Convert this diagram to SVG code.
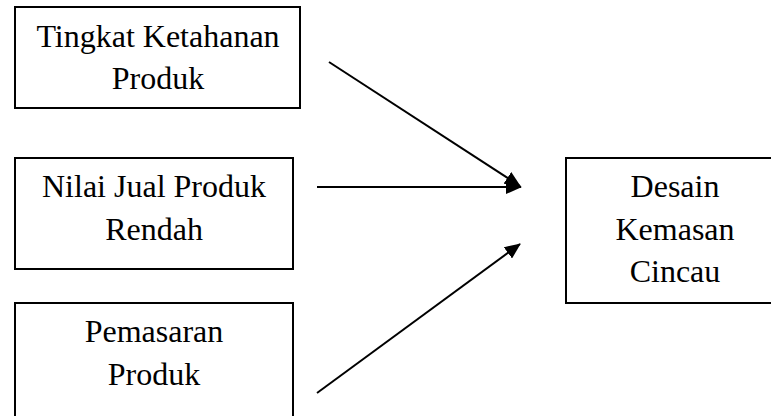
<svg xmlns="http://www.w3.org/2000/svg" width="771" height="416" viewBox="0 0 771 416">
<defs>
<marker id="ah" markerWidth="16" markerHeight="14" refX="15" refY="7" orient="auto" markerUnits="userSpaceOnUse">
<path d="M0,0 L16,7 L0,14 Z" fill="#000"/>
</marker>
<style>
.box{fill:#fff;stroke:#000;stroke-width:2}
.t{font-size:32px;fill:#000;text-anchor:middle}
.c{stroke:#000;stroke-width:2;fill:none;marker-end:url(#ah)}
</style>
</defs>
<rect width="771" height="416" fill="#fff"/>
<g font-family="'Liberation Serif', 'DejaVu Serif', serif">
<g id="n1">
<rect class="box" x="15" y="7" width="285" height="101"/>
<text class="t" x="158" y="47">Tingkat Ketahanan</text>
<text class="t" x="158" y="89">Produk</text>
</g>
<g id="n2">
<rect class="box" x="15" y="158" width="278" height="111"/>
<text class="t" x="154" y="197">Nilai Jual Produk</text>
<text class="t" x="154" y="240">Rendah</text>
</g>
<g id="n3">
<rect class="box" x="15" y="303" width="278" height="120"/>
<text class="t" x="154" y="342">Pemasaran</text>
<text class="t" x="154" y="385">Produk</text>
</g>
<g id="n4">
<rect class="box" x="566" y="158" width="220" height="145"/>
<text class="t" x="675" y="197">Desain</text>
<text class="t" x="675" y="240">Kemasan</text>
<text class="t" x="675" y="282">Cincau</text>
</g>
</g>
<g id="connectors">
<line class="c" x1="329" y1="62" x2="520" y2="186"/>
<line class="c" x1="317" y1="187" x2="521" y2="187"/>
<line class="c" x1="317" y1="393" x2="520" y2="244"/>
</g>
</svg>
